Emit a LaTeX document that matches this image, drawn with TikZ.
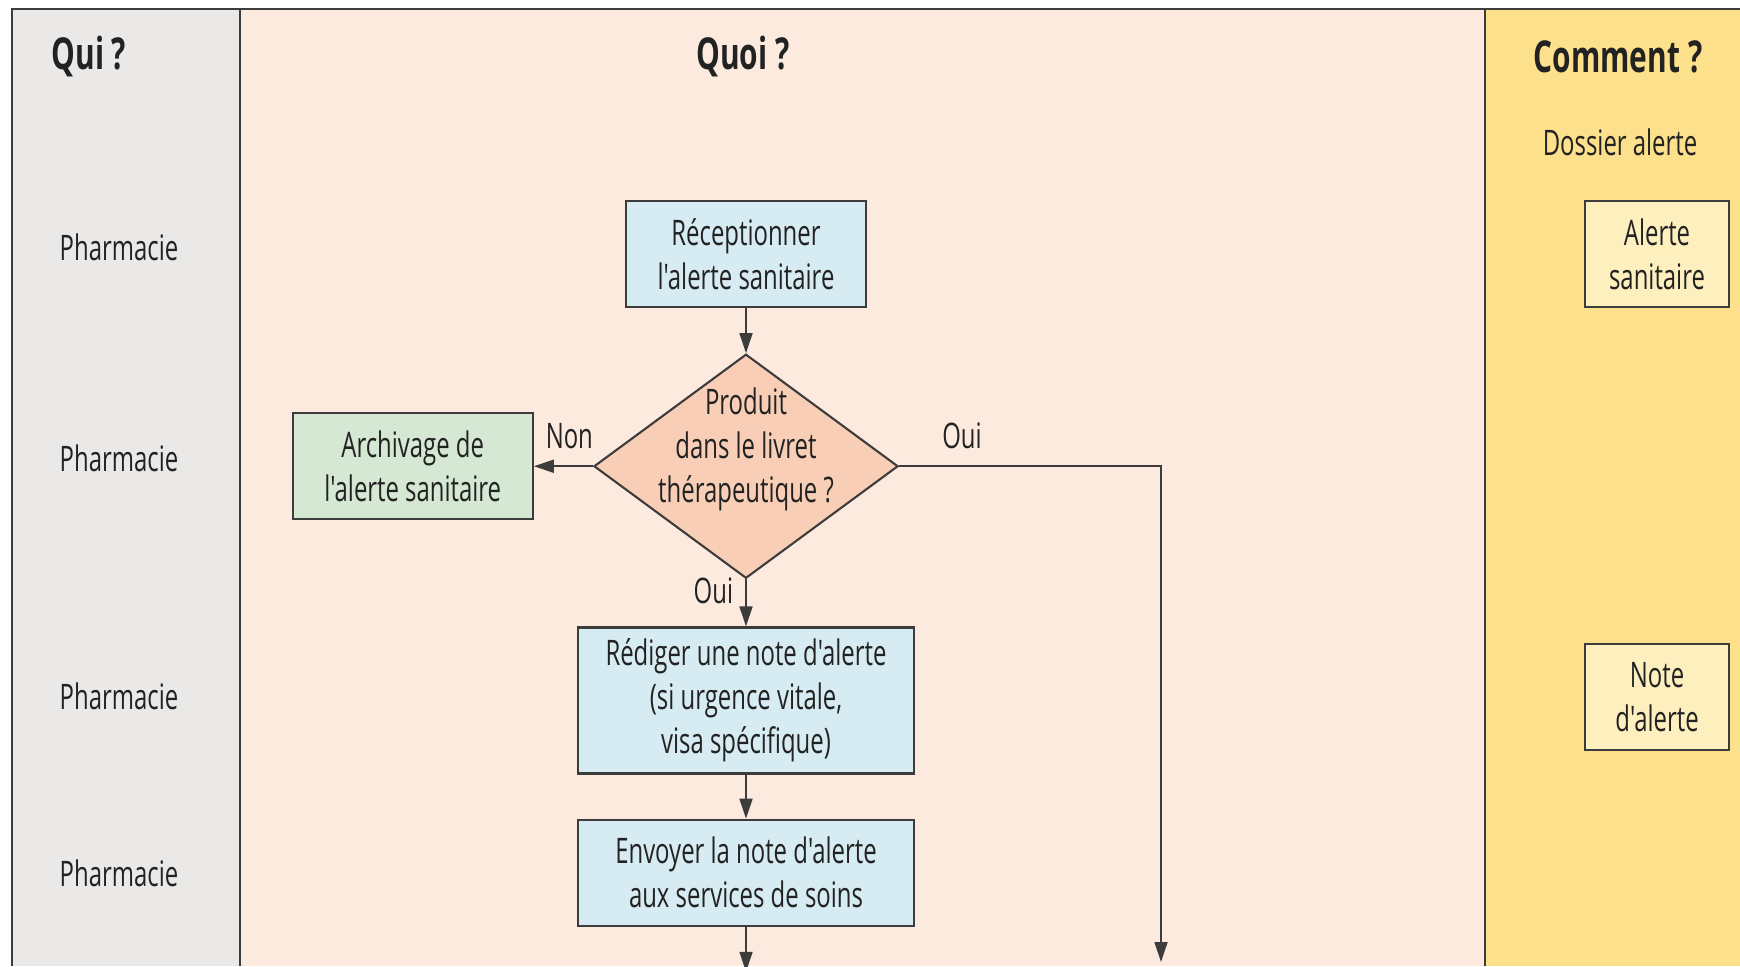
\documentclass[tikz,border=0pt]{standalone}
\usepackage{fontspec}
\setmainfont[FakeStretch=0.68, Ligatures=TeXOff]{Open Sans}
\usepackage{tikz}
\usetikzlibrary{arrows.meta,positioning,shapes.geometric}
\definecolor{quicol}{HTML}{EAE9E8}
\definecolor{quoicol}{HTML}{FCEADF}
\definecolor{commcol}{HTML}{FDE08C}
\definecolor{taskcol}{HTML}{D6ECF2}
\definecolor{archcol}{HTML}{D5E8D3}
\definecolor{deccol}{HTML}{F8CFB6}
\definecolor{doccol}{HTML}{FEEFBF}
\definecolor{framecol}{HTML}{3C3C3C}
\definecolor{txtcol}{HTML}{222222}

\begin{document}
\begin{tikzpicture}[
  x=0.01cm, y=-0.01cm,
  font=\fontsize{10}{12.5}\selectfont, text=txtcol,
  task/.style={draw=framecol, line width=0.6pt, fill=taskcol, align=center,
               inner sep=2pt, minimum width=24mm, minimum height=10.6mm},
  archive/.style={task, fill=archcol},
  decision/.style={diamond, draw=framecol, line width=0.6pt, fill=deccol,
                   inner sep=0pt, minimum width=30.4mm, minimum height=22.4mm},
  doc/.style={task, fill=doccol, minimum width=14.4mm},
  head/.style={font=\fontsize{12.5}{15}\selectfont\bfseries},
  who/.style={},
  arrow/.style={-{Triangle[length=2mm, width=1.3mm]}, line width=0.5pt, draw=framecol},
  lbl/.style={inner sep=2pt}
]
\useasboundingbox (0,0) rectangle (1740,966);
\fill[white] (0,0) rectangle (1740,966);
\fill[quicol] (12,9) rectangle (240,966);
\fill[quoicol] (240,9) rectangle (1485,966);
\fill[commcol] (1485,9) rectangle (1740,966);
\draw[framecol, line width=0.8pt] (12,966) -- (12,9) -- (1740,9);
\draw[framecol, line width=0.8pt] (240,9) -- (240,966);
\draw[framecol, line width=0.8pt] (1485,9) -- (1485,966);

\node[head] (qui)  at (89,57)   {Qui ?};
\node[head] (quoi) at (743,57)  {Quoi ?};
\node[head] (comm) at (1618,57) {Comment ?};
\node (dossier) at (1620,142) {Dossier alerte};

\node[who] (who1) at (119,247) {Pharmacie};
\node[who] (who2) at (119,458) {Pharmacie};
\node[who] (who3) at (119,696) {Pharmacie};
\node[who] (who4) at (119,873) {Pharmacie};

\node[task] (recv) at (746,254) {Réceptionner\\l'alerte sanitaire};
\node[decision, below=4.5mm of recv] (dec) {};
\node[align=center, yshift=1.7mm] (dectxt) at (dec) {Produit\\dans le livret\\thérapeutique ?};
\node[archive, left=5.9mm of dec] (arch) {Archivage de\\l'alerte sanitaire};
\node[task, below=4.7mm of dec, minimum width=33.5mm, minimum height=14.6mm] (redig)
  {Rédiger une note d'alerte\\(si urgence vitale,\\visa spécifique)};
\node[task, below=4.4mm of redig, minimum width=33.5mm] (envoi)
  {Envoyer la note d'alerte\\aux services de soins};
\coordinate[below=4.5mm of envoi] (out1);
\coordinate (out2) at (1161,962);

\node[doc] (docalerte) at (1657,254) {Alerte\\sanitaire};
\node[doc] (docnote)   at (1657,697) {Note\\d'alerte};

\draw[arrow] (recv) -- (dec);
\draw[arrow] (dec) -- node[above, lbl, yshift=0.9mm, xshift=0.6mm] {Non} (arch);
\draw[arrow] (dec) -- node[left, lbl, pos=0.25, xshift=-0.5mm] {Oui} (redig);
\draw[arrow] (dec.east) -| node[above, lbl, pos=0.12, yshift=0.9mm] {Oui} (out2);
\draw[arrow] (redig) -- (envoi);
\draw[arrow] (envoi) -- (out1);
\end{tikzpicture}
\end{document}
